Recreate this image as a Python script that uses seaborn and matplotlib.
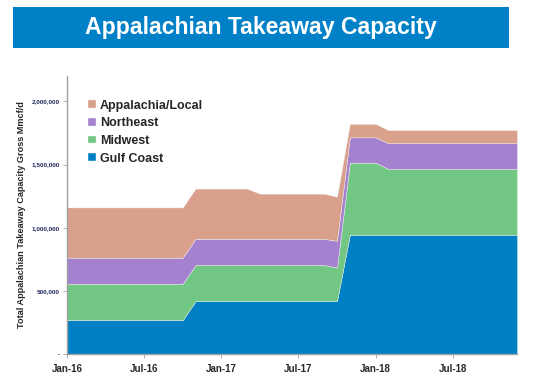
import numpy as np
import seaborn as sns
import matplotlib.pyplot as plt
from matplotlib.patches import Rectangle

# meses Jan-16 .. Dec-18 (indice 0..35)
month_idx = list(range(36))
tick_pos = [0, 6, 12, 18, 24, 30]
tick_labels = ["Jan-16", "Jul-16", "Jan-17", "Jul-17", "Jan-18", "Jul-18"]

series_names = ["Gulf Coast", "Midwest", "Northeast", "Appalachia/Local"]

gulf_coast = [270000, 270000, 270000, 270000, 270000, 270000, 270000, 270000, 270000, 270000,
              420000, 420000, 420000, 420000, 420000, 420000, 420000, 420000, 420000, 420000,
              420000, 420000, 945000, 945000, 945000, 945000, 945000, 945000, 945000, 945000,
              945000, 945000, 945000, 945000, 945000, 945000]
midwest = [288000, 288000, 288000, 288000, 288000, 288000, 288000, 288000, 288000, 288000,
           286000, 286000, 286000, 286000, 286000, 286000, 286000, 286000, 286000, 286000,
           286000, 265000, 570000, 570000, 570000, 520000, 520000, 520000, 520000, 520000,
           520000, 520000, 520000, 520000, 520000, 520000]
northeast = [206000, 206000, 206000, 206000, 206000, 206000, 206000, 206000, 206000, 206000,
             207000, 207000, 207000, 207000, 207000, 207000, 207000, 207000, 207000, 207000,
             207000, 212000, 200000, 200000, 200000, 203000, 203000, 203000, 203000, 203000,
             203000, 203000, 203000, 203000, 203000, 203000]
appalachia = [397000, 397000, 397000, 397000, 397000, 397000, 397000, 397000, 397000, 397000,
              397000, 397000, 397000, 397000, 397000, 357000, 357000, 357000, 357000, 357000,
              357000, 348000, 106000, 106000, 106000, 104000, 104000, 104000, 104000, 104000,
              104000, 104000, 104000, 104000, 104000, 104000]

colors = ["#0080C4", "#72C785", "#A582D0", "#D9A08B"]

sns.set_style("white")
plt.rcParams['font.family'] = ['Liberation Sans', 'DejaVu Sans']

fig = plt.figure(figsize=(5.35, 3.81), dpi=100)

# banner del titulo
fig.patches.append(Rectangle((13/535, 1-48/381), 496/535, 41/381, transform=fig.transFigure,
                             facecolor="#0080C6", edgecolor="none", zorder=0))
fig.text(0.488, 1-27.5/381, "Appalachian Takeaway Capacity", ha="center", va="center",
         color="white", fontsize=16.6, fontweight="bold")

ax = fig.add_axes([67/535, 1-354.3/381, 450/535, 278.3/381])
ax.stackplot(month_idx, gulf_coast, midwest, northeast, appalachia,
             labels=series_names, colors=colors, linewidth=0.3, edgecolor="#F0F0F0")

ax.set_xlim(0, 35)
ax.set_ylim(0, 2200000)
ax.set_xticks(tick_pos)
ax.set_xticklabels(tick_labels, fontsize=7, fontweight="bold")
yt = [0, 500000, 1000000, 1500000, 2000000]
ax.set_yticks(yt)
ax.set_yticklabels(["-" if v == 0 else f"{v:,}" for v in yt], fontsize=4.6,
                   fontweight="bold", color="#1F2A5C")
ax.tick_params(axis="both", which="both", length=3, width=0.6, color="#A0A0A0",
               direction="out", bottom=True, left=True, pad=2)
ax.tick_params(axis="x", pad=4)

sns.despine(ax=ax)
for s in ["left", "bottom"]:
    ax.spines[s].set_color("#A0A0A0")
    ax.spines[s].set_linewidth(1.0)

fig.text(21.7/535, 1-215/381, "Total Appalachian Takeaway Capacity Gross Mmcf/d",
         rotation=90, ha="center", va="center", fontsize=6.6, fontweight="bold")

h, l = ax.get_legend_handles_labels()
ax.legend(h[::-1], l[::-1], loc="upper left", bbox_to_anchor=(0.047, 0.915), frameon=False,
          prop={"size": 9, "weight": "bold"}, handlelength=0.6, handleheight=0.6,
          handletextpad=0.35, labelspacing=0.45, borderpad=0, borderaxespad=0)

fig.savefig("out.png", dpi=100)
